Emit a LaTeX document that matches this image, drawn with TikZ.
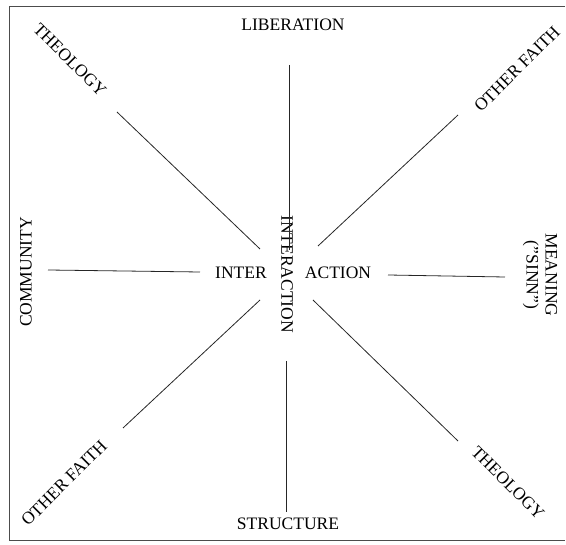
\documentclass[tikz,border=0pt]{standalone}
\usepackage{fontspec}
\setmainfont{Liberation Serif}
\begin{document}
\begin{tikzpicture}[x=1pt,y=-1pt,
  lab/.style={inner sep=0pt,font=\fontsize{17.5}{19}\selectfont},
  spoke/.style={line width=0.8pt,black!85},
  frame/.style={line width=1pt,black!70}]
\useasboundingbox (0,0) rectangle (566,545);
% frame (three sides)
\coordinate (ftr) at (565,7);
\coordinate (ftl) at (9,7);
\coordinate (fbl) at (9,541);
\coordinate (fbr) at (565,541);
\draw[frame] (ftr) -- (ftl) -- (fbl) -- (fbr);
% labels
\node[lab] (lib) at (293,25) {LIBERATION};
\node[lab] (str) at (288,524) {STRUCTURE};
\node[lab,rotate=-45] (theoTL) at (70,60) {THEOLOGY};
\node[lab,rotate=45] (ofTR) at (517,69) {OTHER FAITH};
\node[lab,rotate=45] (ofBL) at (64,483) {OTHER FAITH};
\node[lab,rotate=-45] (theoBR) at (508,483) {THEOLOGY};
\node[lab,rotate=90] (com) at (26,272) {COMMUNITY};
\node[lab,rotate=-90,align=center] (mean) at (540,275) {MEANING\\(''SINN'')};
\node[lab,rotate=-90] (interv) at (287,274) {INTERACTION};
\node[lab] (inter) at (241,273) {INTER};
\node[lab] (action) at (338,273) {ACTION};
% spoke end points
\coordinate (t1) at (289,65);  \coordinate (t2) at (289,250);
\coordinate (b1) at (286,361); \coordinate (b2) at (286,512);
\coordinate (l1) at (48,270);  \coordinate (l2) at (200,272);
\coordinate (r1) at (388,275); \coordinate (r2) at (505,277);
\coordinate (ul1) at (117,112); \coordinate (ul2) at (260,249);
\coordinate (ur1) at (458,115); \coordinate (ur2) at (318,246);
\coordinate (ll1) at (260,300); \coordinate (ll2) at (123,428);
\coordinate (lr1) at (313,300); \coordinate (lr2) at (458,441);
\draw[spoke] (t1) -- (t2);
\draw[spoke] (b1) -- (b2);
\draw[spoke] (l1) -- (l2);
\draw[spoke] (r1) -- (r2);
\draw[spoke] (ul1) -- (ul2);
\draw[spoke] (ur1) -- (ur2);
\draw[spoke] (ll1) -- (ll2);
\draw[spoke] (lr1) -- (lr2);
\end{tikzpicture}
\end{document}
